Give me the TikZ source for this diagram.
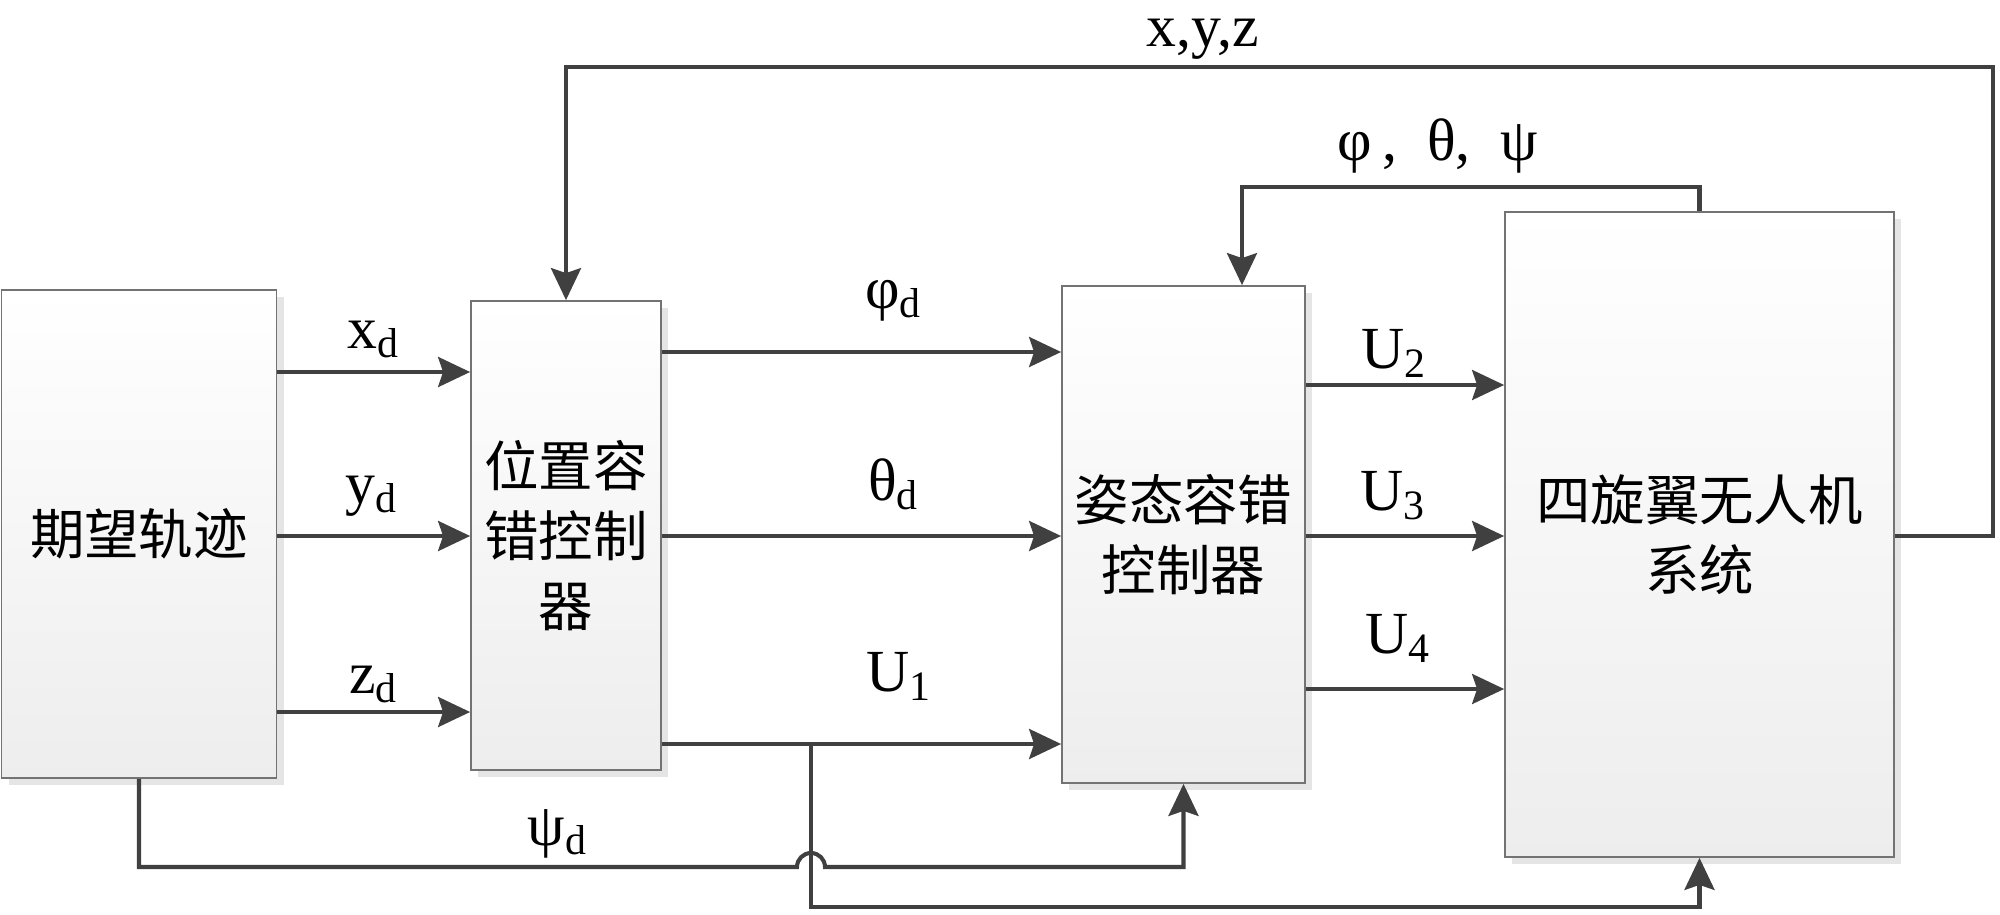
\documentclass[tikz,border=0pt]{standalone}
\usepackage{fontspec}
\setmainfont{Liberation Serif}
\newfontfamily\cjk{Noto Sans CJK SC}
\usetikzlibrary{positioning, arrows.meta, shadows}
\definecolor{lineGray}{HTML}{404040}
\definecolor{edgeGray}{HTML}{737373}

\begin{document}
\begin{tikzpicture}[font=\fontsize{17}{20}\selectfont]
\tikzstyle{blk}=[draw=edgeGray, line width=0.5pt, top color=white, bottom color=black!7, general shadow={fill=black!10, shadow xshift=0.07cm, shadow yshift=-0.07cm}, inner sep=0pt, align=center, font=\cjk\fontsize{15.5}{20}\selectfont]
\tikzstyle{arr}=[draw=lineGray, line width=1.15pt, -{Stealth[length=0.32cm, width=0.3cm, inset=0.05cm]}]
\tikzstyle{lbl}=[anchor=base, inner sep=0pt]
\useasboundingbox (0,0) rectangle (20,9.14);
\node[blk, minimum width=2.75cm, minimum height=4.88cm] (traj) at (1.39,3.80) {期望轨迹};
\node[blk, minimum width=1.90cm, minimum height=4.69cm] (pos) at (5.66,3.785) {位置容\\错控制\\器};
\node[blk, minimum width=2.43cm, minimum height=4.97cm] (att) at (11.835,3.795) {姿态容错\\控制器};
\node[blk, minimum width=3.89cm, minimum height=6.45cm] (uav) at (16.995,3.795) {四旋翼无人机\\系统};
\draw[arr] (traj.east |- 0,5.42) -- (pos.west |- 0,5.42);
\draw[arr] (traj.east |- 0,3.78) -- (pos.west |- 0,3.78);
\draw[arr] (traj.east |- 0,2.02) -- (pos.west |- 0,2.02);
\draw[arr] (pos.east |- 0,5.62) -- (att.west |- 0,5.62);
\draw[arr] (pos.east |- 0,3.78) -- (att.west |- 0,3.78);
\draw[arr] (pos.east |- 0,1.70) -- (att.west |- 0,1.70);
\draw[arr] (att.east |- 0,5.29) -- (uav.west |- 0,5.29);
\draw[arr] (att.east |- 0,3.78) -- (uav.west |- 0,3.78);
\draw[arr] (att.east |- 0,2.25) -- (uav.west |- 0,2.25);
\coordinate (xyzTop) at (19.93,8.47);
\draw[arr] (uav.east |- 0,3.78) -| (xyzTop) -| (pos.north);
\coordinate (angTop) at (12.42,7.27);
\draw[arr] (uav.north) |- (angTop) -- (angTop |- att.north);
\coordinate (u1Br) at (8.11,1.70);
\coordinate (u1Low) at (8.11,0.07);
\draw[arr] (u1Br) -- (u1Low) -| (uav.south);
\coordinate (psiJump) at (7.97,0.47);
\draw[arr] (traj.south) |- (psiJump) arc[start angle=180, end angle=0, radius=0.14] -| (att.south);
\node[lbl] (lxd) at (3.74,5.66) {x\textsubscript{d}};
\node[lbl] (lyd) at (3.72,4.11) {y\textsubscript{d}};
\node[lbl] (lzd) at (3.74,2.21) {z\textsubscript{d}};
\node[lbl] (lphid) at (8.94,6.06) {φ\textsubscript{d}};
\node[lbl] (lthd) at (8.94,4.14) {θ\textsubscript{d}};
\node[lbl] (lu1) at (8.99,2.23) {U\textsubscript{1}};
\node[lbl] (lu2) at (13.94,5.46) {U\textsubscript{2}};
\node[lbl] (lu3) at (13.93,4.04) {U\textsubscript{3}};
\node[lbl] (lu4) at (13.98,2.61) {U\textsubscript{4}};
\node[lbl] (lxyz) at (12.03,8.68) {x,y,z};
\node[lbl] (lang) at (14.38,7.54) {φ\,,\enspace θ,\enspace ψ};
\node[lbl] (lpsid) at (5.58,0.69) {ψ\textsubscript{d}};
\end{tikzpicture}
\end{document}
